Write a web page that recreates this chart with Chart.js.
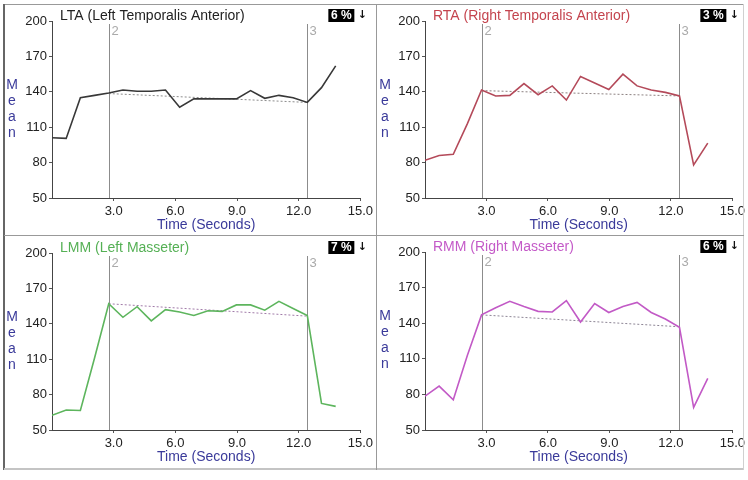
<!DOCTYPE html>
<html>
<head>
<meta charset="utf-8">
<script src="https://cdn.jsdelivr.net/npm/chart.js@4.4.0/dist/chart.umd.min.js"></script>
<style>
  body { margin: 0; background: #fff; }
  #wrap { position: relative; width: 748px; height: 480px; overflow: hidden; background: #fff; }
  #wrap canvas { position: absolute; }
  .rule { position: absolute; }
</style>
</head>
<body>
<div id="wrap">
  <canvas id="lta" width="376" height="235" style="left:0;top:0"></canvas>
  <canvas id="rta" width="372" height="235" style="left:376px;top:0"></canvas>
  <canvas id="lmm" width="376" height="235" style="left:0;top:235px"></canvas>
  <canvas id="rmm" width="372" height="235" style="left:376px;top:235px"></canvas>

  <!-- panel frame -->
  <div class="rule" style="left:4px;top:4px;width:740px;height:1px;background:#999"></div>
  <div class="rule" style="left:3px;top:4px;width:2px;height:466px;background:#666"></div>
  <div class="rule" style="left:4px;top:468px;width:740px;height:2px;background:#c4c4c4"></div>
  <div class="rule" style="left:743px;top:4px;width:1px;height:466px;background:#d0d0d0"></div>
  <div class="rule" style="left:376px;top:4px;width:1px;height:466px;background:#999"></div>
  <div class="rule" style="left:4px;top:235px;width:740px;height:1px;background:#999"></div>
</div>

<script>
// sample times (seconds)
const times = [0, 0.69, 1.38, 2.07, 2.76, 3.45, 4.14, 4.83, 5.52, 6.21, 6.9,
               7.59, 8.28, 8.97, 9.66, 10.35, 11.04, 11.73, 12.42, 13.11, 13.8];

// mean values per muscle
const ltaValues = [101, 100.5, 135, 137, 139, 141.5, 140.5, 140.5, 141.5, 127, 134,
                   134, 134, 134, 141, 134.5, 137, 135, 131, 143.5, 162];
const rtaValues = [82, 86, 87, 113, 141.5, 136.5, 137, 147, 137.5, 145, 133,
                   153, 147.5, 142, 155, 145, 141.5, 139.5, 136.5, 78, 96.5];
const lmmValues = [62.5, 67, 66.5, 111, 157, 145.5, 154.5, 142.5, 152, 150, 147,
                   151, 150.5, 156, 156, 151.5, 159, 153, 147, 72.5, 70];
const rmmValues = [78.5, 87, 75.5, 113, 147, 153, 158.5, 154, 150, 149.5, 159,
                   141, 156.5, 149, 154, 157.5, 149, 143.5, 136.5, 69, 93.5];

// event markers and trend between them
const markerTimes = [2.76, 12.42];
const markerLabels = ['2', '3'];
const ltaTrend = [138.5, 131];
const rtaTrend = [141, 136.5];
const lmmTrend = [157, 146.5];
const rmmTrend = [147, 137];

const xTicks = [3, 6, 9, 12, 15];
const yTicks = [50, 80, 110, 140, 170, 200];

Chart.defaults.font.family = '"Liberation Sans", Arial, sans-serif';

// titles, vertical "Mean", badge and event markers
const decor = {
  id: 'panelDecor',
  beforeDatasetsDraw(chart, args, opts) {
    const ctx = chart.ctx;
    const a = chart.chartArea;
    const x = chart.scales.x;
    ctx.save();
    markerTimes.forEach((t, i) => {
      const px = Math.round(x.getPixelForValue(t)) + 0.5;
      ctx.strokeStyle = '#8c8c8c';
      ctx.lineWidth = 1;
      ctx.beginPath();
      ctx.moveTo(px, a.top + 3);
      ctx.lineTo(px, a.bottom);
      ctx.stroke();
      ctx.fillStyle = '#aaa';
      ctx.font = '13px "Liberation Sans", Arial';
      ctx.textAlign = 'left';
      ctx.textBaseline = 'middle';
      ctx.fillText(markerLabels[i], px + 2, a.top + 10);
    });
    ctx.restore();
  },
  afterDraw(chart, args, opts) {
    const ctx = chart.ctx;
    const a = chart.chartArea;
    ctx.save();
    // panel title
    ctx.font = '14px "Liberation Sans", Arial';
    ctx.fillStyle = opts.titleColor;
    ctx.textAlign = 'left';
    ctx.textBaseline = 'middle';
    ctx.fillText(opts.title, a.left + 8, a.top - 5);

    // stacked axis label
    ctx.fillStyle = '#3a3a9a';
    ctx.textAlign = 'center';
    'Mean'.split('').forEach((ch, i) => {
      ctx.fillText(ch, a.left - 40, a.top + 64 + 16 * i);
    });

    // percentage badge
    ctx.fillStyle = '#000';
    ctx.fillRect(a.right - 32, a.top - 12, 26, 13);
    ctx.fillStyle = '#fff';
    ctx.font = 'bold 12px "Liberation Sans", Arial';
    ctx.fillText(opts.badge, a.right - 19, a.top - 5);
    ctx.fillStyle = '#111';
    ctx.font = 'bold 11px "DejaVu Sans"';
    ctx.fillText('\u2193', a.right + 2, a.top - 6);
    ctx.restore();
  }
};

function makePanel(id, cfg) {
  new Chart(document.getElementById(id), {
    type: 'line',
    data: {
      datasets: [
        {
          data: times.map((t, i) => ({ x: t, y: cfg.values[i] })),
          borderColor: cfg.color,
          borderWidth: 1.6,
          pointRadius: 0,
          tension: 0
        },
        {
          data: markerTimes.map((t, i) => ({ x: t, y: cfg.trend[i] })),
          borderColor: cfg.trendColor,
          borderWidth: 1,
          borderDash: [2, 2],
          pointRadius: 0
        }
      ]
    },
    options: {
      responsive: false,
      animation: false,
      layout: { padding: { left: 0, right: cfg.padRight, top: cfg.top, bottom: 0 } },
      plugins: {
        legend: { display: false },
        tooltip: { enabled: false },
        panelDecor: { title: cfg.title, titleColor: cfg.titleColor, badge: cfg.badge }
      },
      scales: {
        x: {
          type: 'linear',
          min: 0,
          max: 15,
          afterBuildTicks: s => { s.ticks = xTicks.map(v => ({ value: v })); },
          afterFit: s => { s.height = cfg.xAxisH; },
          grid: { drawOnChartArea: false, drawTicks: true, tickLength: 3, color: '#555' },
          border: { color: '#444', width: 1 },
          ticks: {
            padding: 3, color: '#222', font: { size: 13 },
            maxRotation: 0, autoSkip: false,
            callback: v => v.toFixed(1)
          },
          title: {
            display: true, text: 'Time (Seconds)', color: '#3a3a9a',
            font: { size: 14 }, padding: { top: 0, bottom: cfg.titlePad }
          }
        },
        y: {
          min: 50,
          max: 200,
          afterBuildTicks: s => { s.ticks = yTicks.map(v => ({ value: v })); },
          afterFit: s => { s.width = cfg.left; },
          grid: { drawOnChartArea: false, drawTicks: true, tickLength: 3, color: '#555' },
          border: { color: '#444', width: 1 },
          ticks: { padding: 2, color: '#222', font: { size: 13 } }
        }
      }
    },
    plugins: [decor]
  });
}

makePanel('lta', {
  values: ltaValues, trend: ltaTrend, color: '#383838', trendColor: '#8c8c8c',
  title: 'LTA (Left Temporalis Anterior)', titleColor: '#222', badge: '6 %',
  left: 52, padRight: 13, top: 21, xAxisH: 37, titlePad: 1
});
makePanel('rta', {
  values: rtaValues, trend: rtaTrend, color: '#b44a5a', trendColor: '#8c8080',
  title: 'RTA (Right Temporalis Anterior)', titleColor: '#c4444e', badge: '3 %',
  left: 49, padRight: 13, top: 21, xAxisH: 37, titlePad: 1
});
makePanel('lmm', {
  values: lmmValues, trend: lmmTrend, color: '#5db55d', trendColor: '#a07aa8',
  title: 'LMM (Left Masseter)', titleColor: '#55b055', badge: '7 %',
  left: 52, padRight: 13, top: 18, xAxisH: 40, titlePad: 4
});
makePanel('rmm', {
  values: rmmValues, trend: rmmTrend, color: '#c25ac6', trendColor: '#8c8494',
  title: 'RMM (Right Masseter)', titleColor: '#c45ac8', badge: '6 %',
  left: 49, padRight: 12, top: 17, xAxisH: 40, titlePad: 4
});
</script>
</body>
</html>
